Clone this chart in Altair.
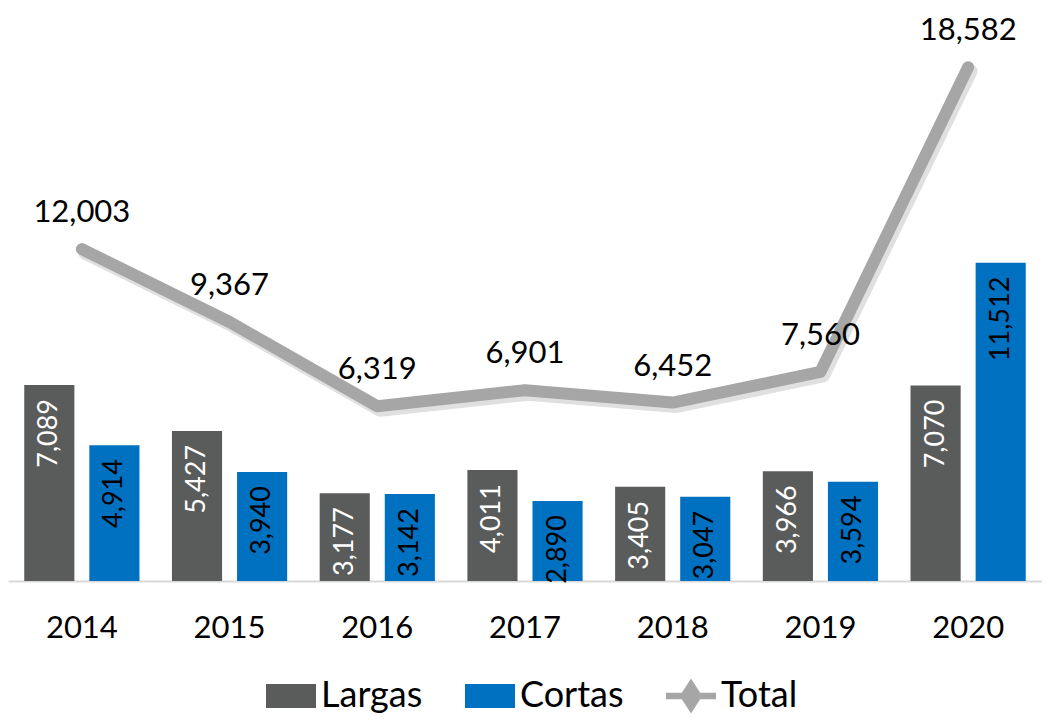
import altair as alt
import pandas as pd

years = ["2014", "2015", "2016", "2017", "2018", "2019", "2020"]
largas = [7089, 5427, 3177, 4011, 3405, 3966, 7070]
cortas = [4914, 3940, 3142, 2890, 3047, 3594, 11512]
total = [12003, 9367, 6319, 6901, 6452, 7560, 18582]
series = ["Largas", "Cortas", "Total"]
colors = ["#5A5B5B", "#0070C0", "#A6A6A6"]

bars_df = pd.DataFrame({
    "year": years * 2,
    "serie": ["Largas"] * len(years) + ["Cortas"] * len(years),
    "value": largas + cortas,
})
line_df = pd.DataFrame({"year": years, "total": total})
legend_df = pd.DataFrame({"serie": series})

FONT = "Lato"
rect_path = "M-1,-0.48H1V0.48H-1Z"
total_path = "M-1,-0.13H1V0.13H-1Z M0,-0.7L0.45,0L0,0.7L-0.45,0Z"

x = alt.X(
    "year:N", sort=years,
    scale=alt.Scale(paddingInner=0.22, paddingOuter=0.11),
    axis=alt.Axis(title=None, labelAngle=0, labelFont=FONT, labelFontSize=31,
                  labelColor="black", labelPadding=32, ticks=False,
                  domainColor="#d9d9d9", domainWidth=2, grid=False),
)
y_scale = alt.Scale(domain=[0, 20000], nice=False, zero=True)
xoff = alt.XOffset("serie:N", sort=["Largas", "Cortas"],
                   scale=alt.Scale(domain=["Largas", "Cortas"], paddingInner=0.23, paddingOuter=0))
color = alt.Color("serie:N", scale=alt.Scale(domain=series, range=colors),
                  legend=alt.Legend(title=None))

bars = alt.Chart(bars_df).mark_bar().encode(
    x=x, y=alt.Y("value:Q", scale=y_scale, axis=None), xOffset=xoff, color=color
)
bar_text = alt.Chart(bars_df).mark_text(
    angle=270, align="right", baseline="middle", dx=-14, font=FONT, fontSize=27
).encode(
    x=x, y=alt.Y("value:Q", scale=y_scale, axis=None), xOffset=xoff,
    text=alt.Text("value:Q", format=","),
    color=alt.condition(alt.datum.serie == "Largas", alt.value("white"), alt.value("black")),
)

y_line = alt.Y("total:Q", scale=y_scale, axis=None)
line_shadow = alt.Chart(line_df).mark_line(
    color="black", opacity=0.12, strokeWidth=13, strokeCap="round", strokeJoin="round",
    xOffset=3, yOffset=4
).encode(x=x, y=y_line)
line = alt.Chart(line_df).mark_line(
    color="#A6A6A6", strokeWidth=12, strokeCap="round", strokeJoin="round"
).encode(x=x, y=y_line)
line_text = alt.Chart(line_df).mark_text(
    dy=-36, font=FONT, fontSize=31, color="black"
).encode(x=x, y=y_line, text=alt.Text("total:Q", format=","))

legend_pts = alt.Chart(legend_df).transform_filter("false").mark_point(filled=True).encode(
    color=color,
    shape=alt.Shape("serie:N", scale=alt.Scale(domain=series, range=[rect_path, rect_path, total_path]),
                    legend=alt.Legend(title=None)),
)

chart = alt.layer(bars, bar_text, line_shadow, line, line_text, legend_pts).properties(
    width=1034, height=553,
    padding={"left": 0, "right": 0, "top": 20, "bottom": 138},
    autosize=alt.AutoSizeParams(type="none"),
).configure_view(strokeWidth=0).configure_legend(
    orient="none", legendX=258, legendY=643, direction="horizontal",
    labelFont=FONT, labelFontSize=36, labelColor="black", labelOffset=5,
    symbolSize=2500, columnPadding=42, padding=0, symbolStrokeWidth=0, symbolOpacity=1,
    labelLimit=0,
)

chart.save("out.html", embed_options={"renderer": "svg", "actions": False})
